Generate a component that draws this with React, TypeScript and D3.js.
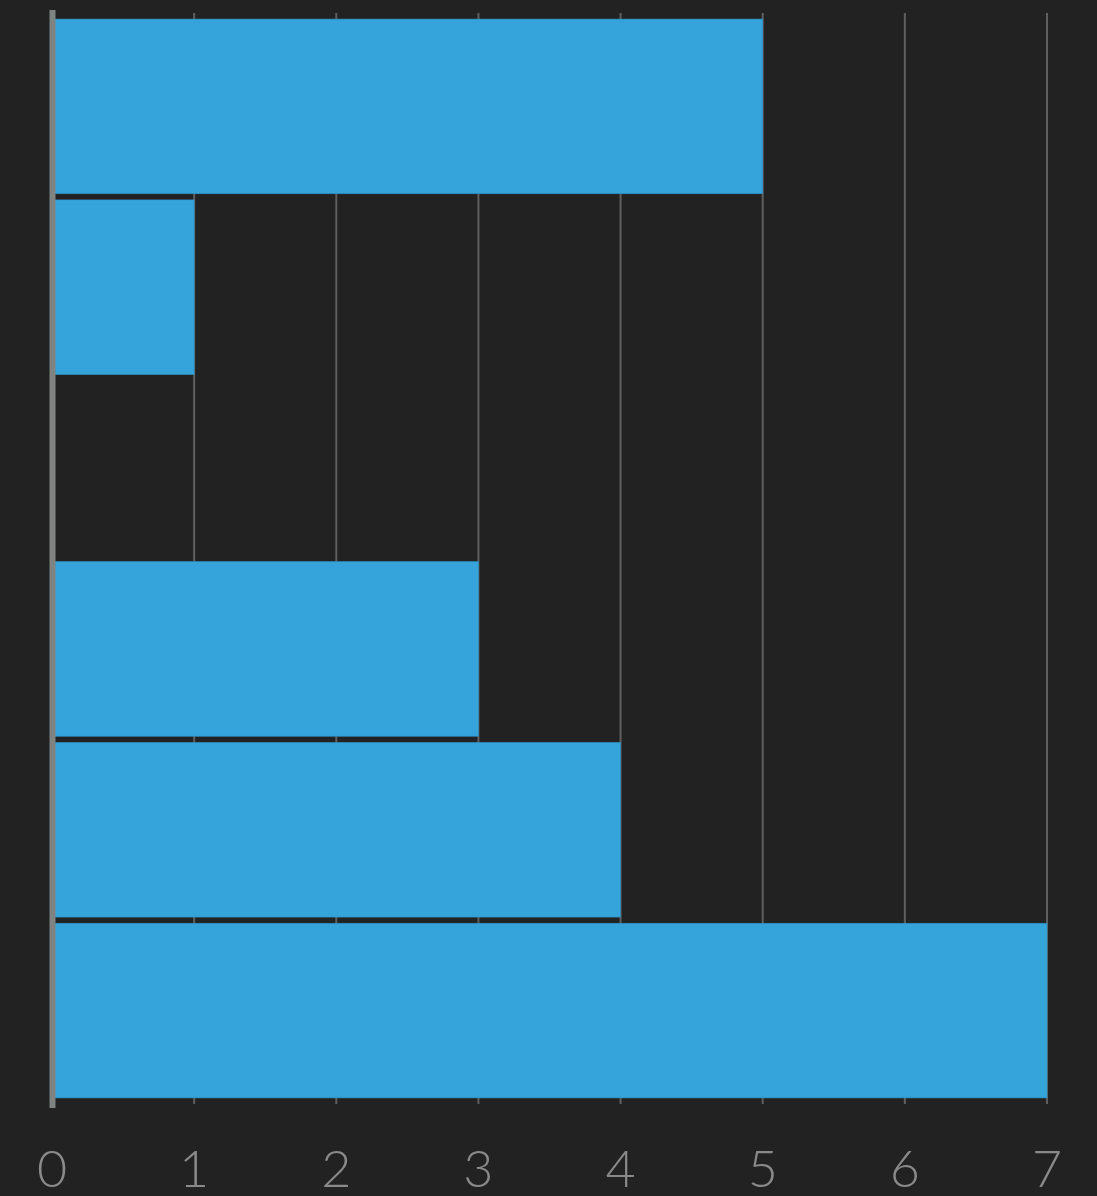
import React from "react";
import * as d3 from "d3";

const categories = ["A", "B", "C", "D", "E", "F"];
const values = [5, 1, 0, 3, 4, 7];
const xTicks = [0, 1, 2, 3, 4, 5, 6, 7];

const W = 1097;
const H = 1196;

export default function App() {
  const x = d3.scaleLinear().domain([0, 7]).range([52, 1047]);
  const y = d3
    .scaleBand<string>()
    .domain(categories)
    .range([16, 1101])
    .paddingInner(0.034)
    .paddingOuter(0.017);

  return (
    <svg
      width={W}
      height={H}
      style={{ position: "absolute", left: 0, top: 0, display: "block" }}
    >
      <rect x={0} y={0} width={W} height={H} fill="#222222" />
      {xTicks.slice(1).map((t) => (
        <line
          key={t}
          x1={x(t)}
          x2={x(t)}
          y1={13}
          y2={1104}
          stroke="#5f5f5f"
          strokeWidth={2}
        />
      ))}
      {categories.map((c, i) =>
        values[i] > 0 ? (
          <rect
            key={c}
            x={x(0) + 2}
            y={y(c)}
            width={x(values[i]) - x(0) - 2}
            height={y.bandwidth()}
            fill="#34a4db"
            stroke="#2d8fc0"
            strokeWidth={0.6}
          />
        ) : null
      )}
      <line x1={x(0) + 0.5} x2={x(0) + 0.5} y1={10} y2={1108} stroke="#7f8483" strokeWidth={6} />
      {xTicks.map((t) => (
        <text
          key={t}
          x={x(t)}
          y={1187}
          textAnchor="middle"
          fill="#8a8a8a"
          fontFamily="Lato, 'Open Sans', sans-serif"
          fontWeight={300}
          fontSize={52}
        >
          {t}
        </text>
      ))}
    </svg>
  );
}
